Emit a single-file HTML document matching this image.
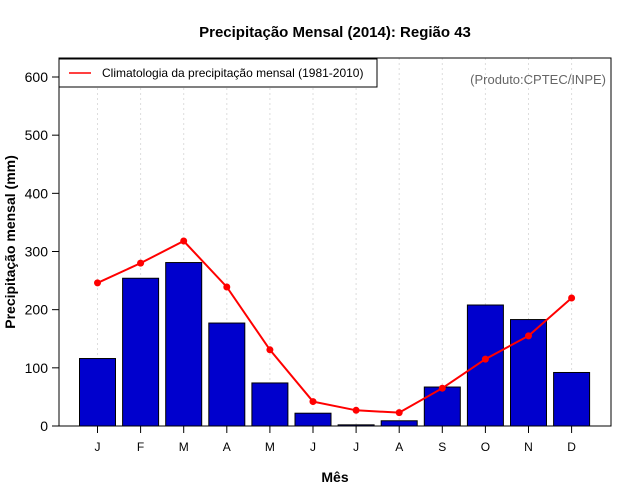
<!DOCTYPE html>
<html><head><meta charset="utf-8"><style>
body{margin:0;background:#fff;}
svg{display:block;font-family:"Liberation Sans",sans-serif;}
</style></head><body>
<svg id="c" width="640" height="500"></svg>
<script>
const months=["J","F","M","A","M","J","J","A","S","O","N","D"];
const precip2014=[116,254,281,177,74,22,2,9,67,208,183,92];
const climatology=[246,280,318,239,131,42,27,23,65,115,155,220];
const yTicks=[0,100,200,300,400,500,600];
const NS="http://www.w3.org/2000/svg";
const svg=document.getElementById('c');
function mk(t,a,p){const e=document.createElementNS(NS,t);for(const k in a)e.setAttribute(k,a[k]);(p||svg).appendChild(e);return e;}
const L=59,R=611,T=58,B=426;
const y=v=>B-(v/600)*(B-77);
const x=i=>97.5+43.1*i;
// grid
months.forEach((m,i)=>{const g=mk('line',{x1:x(i),x2:x(i),y1:T,y2:B,stroke:'#ddd','stroke-dasharray':'2,3'});

});
// bars
precip2014.forEach((v,i)=>{const b=mk('rect',{x:x(i)-18,y:y(v),width:36,height:B-y(v),fill:'#0000cd',stroke:'#000','stroke-width':1});

});
// line
const pl=mk('polyline',{points:climatology.map((v,i)=>x(i)+','+y(v)).join(' '),fill:'none',stroke:'#f00','stroke-width':2});


climatology.forEach((v,i)=>{const c=mk('circle',{cx:x(i),cy:y(v),r:3.5,fill:'#f00'});

});
// frame
const fr=mk('rect',{x:L,y:T,width:R-L,height:B-T,fill:'none',stroke:'#000','stroke-width':1});


// y ticks
yTicks.forEach(v=>{mk('line',{x1:L-7,x2:L,y1:y(v),y2:y(v),stroke:'#000'});
const t=mk('text',{x:L-11,y:y(v)+5,'text-anchor':'end','font-size':14});t.textContent=v;

});
// x ticks
months.forEach((m,i)=>{mk('line',{x1:x(i),x2:x(i),y1:B,y2:B+7,stroke:'#000'});
const t=mk('text',{x:x(i),y:451,'text-anchor':'middle','font-size':12});t.textContent=m;

});
</script>
<script>
(function(){const svg=document.getElementById('c');const NS="http://www.w3.org/2000/svg";
svg.insertAdjacentHTML('beforeend',`
<text x="335" y="37" text-anchor="middle" font-size="15" font-weight="bold">Precipitação Mensal (2014): Região 43</text>
<text x="335" y="482" text-anchor="middle" font-size="14" font-weight="bold">Mês</text>
<text transform="translate(15,242) rotate(-90)" text-anchor="middle" font-size="14" font-weight="bold">Precipitação mensal (mm)</text>
<text x="606" y="84" text-anchor="end" font-size="13" fill="#666">(Produto:CPTEC/INPE)</text>
<g>
<rect x="59" y="59" width="318" height="28" fill="#fff" stroke="#000"/>
<line x1="69" x2="91" y1="73" y2="73" stroke="#f00" stroke-width="1.5"/>
<text x="102" y="77" font-size="12">Climatologia da precipitação mensal (1981-2010)</text>
</g>`);})();
</script>
</body></html>
